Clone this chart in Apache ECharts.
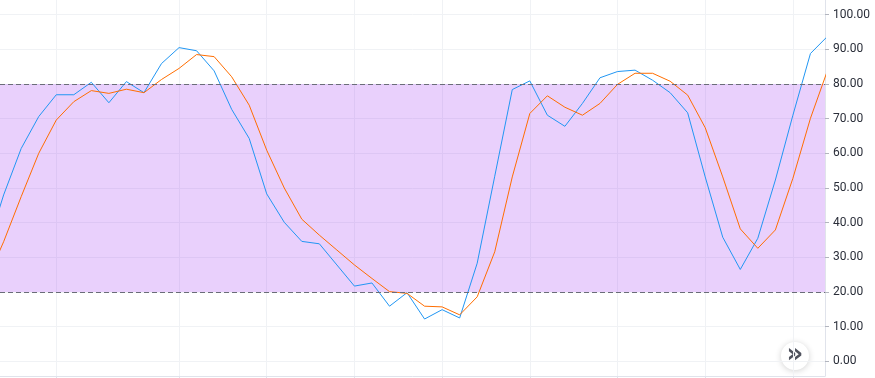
<!DOCTYPE html>
<html>
<head>
<meta charset="utf-8">
<script src="https://cdn.jsdelivr.net/npm/echarts@6/dist/echarts.min.js"></script>
<style>
html,body{margin:0;padding:0;background:#fff;}
#chart{width:875px;height:378px;}
</style>
</head>
<body>
<div id="chart"></div>
<script>
// %K (blue) and %D (orange) values, one per bar
const kValues = [31.9, 48.0, 61.4, 70.6, 76.9, 76.9, 80.5, 74.6, 80.7, 77.5,
  85.9, 90.5, 89.6, 83.8, 72.7, 64.3, 48.3, 40.1, 34.6, 33.9,
  27.8, 21.7, 22.6, 15.9, 19.8, 12.2, 14.9, 12.5, 28.3, 53.4,
  78.4, 80.9, 71.0, 67.8, 74.4, 81.8, 83.6, 84.0, 81.1, 77.5,
  71.7, 53.2, 35.8, 26.5, 35.5, 52.3, 71.0, 88.8, 93.9];
const dValues = [23.0, 34.5, 47.5, 60.0, 69.6, 74.9, 78.1, 77.3, 78.5, 77.5,
  81.3, 84.5, 88.5, 87.9, 82.1, 73.9, 60.9, 50.0, 41.0, 36.4,
  32.1, 27.8, 23.9, 20.1, 19.6, 15.9, 15.7, 13.4, 18.6, 31.6,
  53.2, 71.5, 76.6, 73.3, 71.0, 74.4, 79.9, 83.1, 83.1, 80.8,
  76.8, 67.4, 53.2, 38.2, 32.6, 37.9, 52.8, 70.1, 84.3];
// y-axis tick labels and band levels
const yTicks = [0, 10, 20, 30, 40, 50, 60, 70, 80, 90, 100];
const upperBand = 80;
const lowerBand = 20;
// bar indices where vertical time grid lines fall
const timeGridIndices = [4, 11, 16, 21, 26, 31, 36, 41, 46];

const kData = kValues.map((v, i) => [i, v]);
const dData = dValues.map((v, i) => [i, v]);

const chart = echarts.init(document.getElementById('chart'), null, {renderer: 'canvas'});
chart.setOption({
  animation: false,
  backgroundColor: '#ffffff',
  grid: {left: 0, right: 50, top: 0, bottom: 2, containLabel: false},
  xAxis: {
    type: 'value',
    min: 0.7925,
    max: 47.83,
    axisLine: {show: true, onZero: false, lineStyle: {color: '#e0e3eb'}},
    axisTick: {show: true, length: 2, customValues: timeGridIndices, lineStyle: {color: '#e0e3eb'}},
    axisLabel: {show: false},
    splitLine: {show: true, lineStyle: {color: '#f0f2f5', width: 1}}
  },
  yAxis: {
    type: 'value',
    position: 'right',
    min: -4.24,
    max: 104.24,
    axisLine: {show: true, lineStyle: {color: '#e0e3eb'}},
    axisTick: {show: true, length: 4, customValues: yTicks, lineStyle: {color: '#b2b5be'}},
    axisLabel: {
      show: true,
      customValues: yTicks,
      margin: 8,
      color: '#2a2e39',
      fontFamily: 'Roboto',
      fontSize: 12,
      formatter: v => Number(v).toFixed(2)
    },
    splitLine: {show: true, lineStyle: {color: '#f0f2f5', width: 1}}
  },
  series: [
    {
      name: '%K',
      type: 'line',
      data: kData,
      showSymbol: false,
      symbol: 'none',
      lineStyle: {color: '#2196f3', width: 1},
      z: 3,
      markArea: {
        silent: true,
        itemStyle: {color: 'rgba(155,41,241,0.22)'},
        data: [[{yAxis: lowerBand}, {yAxis: upperBand}]]
      },
      markLine: {
        silent: true,
        symbol: 'none',
        label: {show: false},
        lineStyle: {color: '#6a6d78', type: [5, 3], width: 1},
        data: [{yAxis: upperBand}, {yAxis: lowerBand}]
      }
    },
    {
      name: '%D',
      type: 'line',
      data: dData,
      showSymbol: false,
      symbol: 'none',
      lineStyle: {color: '#ff6d00', width: 1},
      z: 4
    }
  ],
  graphic: [
    {
      type: 'group',
      left: 781,
      top: 342,
      children: [
        {
          type: 'circle',
          shape: {cx: 14, cy: 14, r: 14},
          style: {fill: '#ffffff', shadowBlur: 6, shadowColor: 'rgba(0,0,0,0.18)', shadowOffsetY: 1}
        },
        {
          type: 'text',
          x: 14,
          y: 13,
          style: {text: '»', fill: '#50535e', font: 'bold 26px "DejaVu Sans"', align: 'center', verticalAlign: 'middle'}
        }
      ]
    }
  ]
});
</script>
</body>
</html>
